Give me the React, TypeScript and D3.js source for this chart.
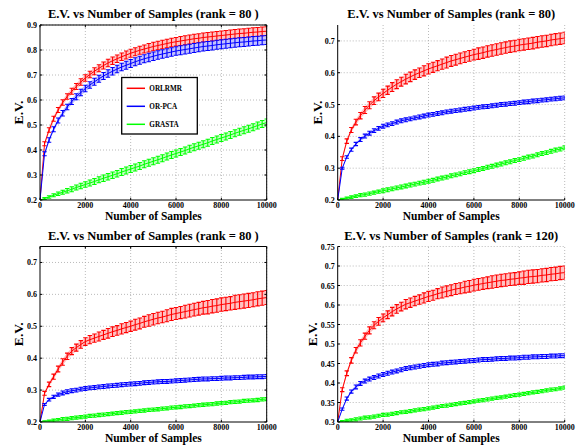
import React from 'react';
import * as d3 from 'd3';

// ---------- data ----------
const SAMPLES = [0, 200, 400, 600, 800, 1000, 1200, 1400, 1600, 1800, 2000, 2200, 2400, 2600, 2800, 3000, 3200, 3400, 3600, 3800, 4000, 4200, 4400, 4600, 4800, 5000, 5200, 5400, 5600, 5800, 6000, 6200, 6400, 6600, 6800, 7000, 7200, 7400, 7600, 7800, 8000, 8200, 8400, 8600, 8800, 9000, 9200, 9400, 9600, 9800, 10000];
const X_TICKS = [0, 2000, 4000, 6000, 8000, 10000];
const SERIES_NAMES = ['ORLRMR', 'OR-PCA', 'GRASTA'];
const SERIES_COLORS = ['#ff0000', '#0000ff', '#00ff00'];

const TITLES = [
  'E.V. vs Number of Samples (rank = 80 )',
  'E.V. vs Number of Samples (rank = 80)',
  'E.V. vs Number of Samples (rank = 80 )',
  'E.V. vs Number of Samples (rank = 120)',
];
const Y_DOMAINS = [[0.2, 0.9], [0.2, 0.75], [0.2, 0.75], [0.3, 0.75]];
const Y_TICKS_TL = [0.2, 0.3, 0.4, 0.5, 0.6, 0.7, 0.8, 0.9];
const Y_TICKS_TR = [0.2, 0.3, 0.4, 0.5, 0.6, 0.7];
const Y_TICKS_BL = [0.2, 0.3, 0.4, 0.5, 0.6, 0.7];
const Y_TICKS_BR = [0.3, 0.35, 0.4, 0.45, 0.5, 0.55, 0.6, 0.65, 0.7, 0.75];

// top-left panel
const TL_RED = [0.200, 0.425, 0.480, 0.525, 0.560, 0.590, 0.614, 0.635, 0.654, 0.672, 0.688, 0.702, 0.715, 0.727, 0.738, 0.748, 0.757, 0.765, 0.773, 0.780, 0.787, 0.793, 0.799, 0.804, 0.809, 0.814, 0.818, 0.822, 0.826, 0.830, 0.833, 0.836, 0.839, 0.842, 0.845, 0.847, 0.850, 0.852, 0.854, 0.856, 0.858, 0.860, 0.862, 0.864, 0.866, 0.867, 0.869, 0.871, 0.872, 0.874, 0.875];
const TL_BLUE = [0.200, 0.385, 0.440, 0.483, 0.518, 0.547, 0.572, 0.594, 0.613, 0.630, 0.646, 0.660, 0.673, 0.685, 0.696, 0.706, 0.715, 0.724, 0.732, 0.739, 0.746, 0.753, 0.759, 0.765, 0.770, 0.775, 0.780, 0.784, 0.788, 0.792, 0.796, 0.799, 0.802, 0.805, 0.808, 0.811, 0.814, 0.816, 0.818, 0.821, 0.823, 0.825, 0.827, 0.829, 0.831, 0.832, 0.834, 0.836, 0.837, 0.839, 0.840];
const TL_GREEN = [0.200, 0.206, 0.212, 0.219, 0.225, 0.231, 0.237, 0.243, 0.250, 0.256, 0.262, 0.268, 0.274, 0.281, 0.287, 0.293, 0.299, 0.305, 0.312, 0.318, 0.324, 0.330, 0.336, 0.343, 0.349, 0.355, 0.361, 0.367, 0.374, 0.380, 0.386, 0.392, 0.398, 0.405, 0.411, 0.417, 0.423, 0.429, 0.436, 0.442, 0.448, 0.454, 0.460, 0.467, 0.473, 0.479, 0.485, 0.491, 0.498, 0.504, 0.510];
const TL_RED_ERR = [0, 0.008, 0.009, 0.010, 0.010, 0.011, 0.011, 0.012, 0.012, 0.013, 0.013, 0.013, 0.014, 0.014, 0.014, 0.015, 0.015, 0.015, 0.015, 0.016, 0.016, 0.016, 0.016, 0.016, 0.017, 0.017, 0.017, 0.017, 0.017, 0.017, 0.017, 0.018, 0.018, 0.018, 0.018, 0.018, 0.018, 0.018, 0.018, 0.018, 0.018, 0.018, 0.018, 0.018, 0.018, 0.018, 0.018, 0.018, 0.018, 0.018, 0.018];
const TL_BLUE_ERR = [0, 0.008, 0.009, 0.010, 0.010, 0.011, 0.011, 0.012, 0.012, 0.013, 0.013, 0.013, 0.014, 0.014, 0.014, 0.015, 0.015, 0.015, 0.015, 0.016, 0.016, 0.016, 0.016, 0.016, 0.017, 0.017, 0.017, 0.017, 0.017, 0.017, 0.017, 0.018, 0.018, 0.018, 0.018, 0.018, 0.018, 0.018, 0.018, 0.018, 0.018, 0.018, 0.018, 0.018, 0.018, 0.018, 0.018, 0.018, 0.018, 0.018, 0.018];
const TL_GREEN_ERR = [0, 0.004, 0.005, 0.006, 0.007, 0.008, 0.009, 0.010, 0.010, 0.011, 0.011, 0.012, 0.012, 0.012, 0.013, 0.013, 0.013, 0.013, 0.014, 0.014, 0.014, 0.014, 0.014, 0.014, 0.014, 0.014, 0.014, 0.014, 0.014, 0.014, 0.014, 0.014, 0.014, 0.014, 0.014, 0.014, 0.014, 0.014, 0.014, 0.014, 0.014, 0.014, 0.014, 0.014, 0.014, 0.014, 0.014, 0.014, 0.014, 0.014, 0.014];

// top-right panel
const TR_RED = [0.200, 0.330, 0.385, 0.420, 0.445, 0.465, 0.483, 0.498, 0.512, 0.524, 0.535, 0.545, 0.555, 0.564, 0.572, 0.580, 0.587, 0.594, 0.600, 0.606, 0.612, 0.617, 0.622, 0.627, 0.632, 0.637, 0.641, 0.645, 0.649, 0.653, 0.657, 0.660, 0.663, 0.667, 0.670, 0.673, 0.676, 0.679, 0.682, 0.684, 0.687, 0.689, 0.691, 0.693, 0.696, 0.698, 0.700, 0.703, 0.705, 0.707, 0.709];
const TR_BLUE = [0.200, 0.300, 0.335, 0.358, 0.376, 0.390, 0.401, 0.410, 0.418, 0.425, 0.432, 0.436, 0.440, 0.445, 0.449, 0.452, 0.455, 0.458, 0.461, 0.464, 0.467, 0.469, 0.472, 0.474, 0.477, 0.479, 0.481, 0.483, 0.485, 0.487, 0.489, 0.491, 0.493, 0.494, 0.496, 0.498, 0.500, 0.501, 0.503, 0.504, 0.506, 0.508, 0.509, 0.511, 0.512, 0.514, 0.515, 0.517, 0.518, 0.520, 0.521];
const TR_GREEN = [0.200, 0.203, 0.206, 0.209, 0.212, 0.215, 0.217, 0.220, 0.223, 0.226, 0.229, 0.232, 0.235, 0.238, 0.241, 0.244, 0.247, 0.250, 0.253, 0.256, 0.259, 0.262, 0.266, 0.269, 0.272, 0.276, 0.279, 0.282, 0.286, 0.289, 0.292, 0.296, 0.299, 0.303, 0.306, 0.310, 0.313, 0.317, 0.320, 0.324, 0.327, 0.331, 0.335, 0.338, 0.342, 0.346, 0.349, 0.353, 0.357, 0.360, 0.364];
const TR_RED_ERR = [0, 0.006, 0.007, 0.008, 0.009, 0.010, 0.011, 0.011, 0.012, 0.012, 0.013, 0.013, 0.014, 0.014, 0.014, 0.015, 0.015, 0.015, 0.015, 0.016, 0.016, 0.016, 0.016, 0.016, 0.017, 0.017, 0.017, 0.017, 0.017, 0.017, 0.017, 0.018, 0.018, 0.018, 0.018, 0.018, 0.018, 0.018, 0.018, 0.018, 0.018, 0.018, 0.018, 0.018, 0.018, 0.018, 0.018, 0.018, 0.018, 0.018, 0.018];
const TR_BLUE_ERR = [0, 0.003, 0.004, 0.005, 0.005, 0.006, 0.006, 0.006, 0.006, 0.006, 0.006, 0.006, 0.006, 0.006, 0.006, 0.006, 0.006, 0.006, 0.006, 0.006, 0.006, 0.006, 0.006, 0.006, 0.006, 0.006, 0.006, 0.006, 0.006, 0.006, 0.006, 0.006, 0.006, 0.006, 0.006, 0.006, 0.006, 0.006, 0.006, 0.006, 0.006, 0.006, 0.006, 0.006, 0.006, 0.006, 0.006, 0.006, 0.006, 0.006, 0.006];
const TR_GREEN_ERR = [0, 0.002, 0.003, 0.004, 0.004, 0.005, 0.005, 0.005, 0.005, 0.005, 0.006, 0.006, 0.006, 0.006, 0.006, 0.006, 0.006, 0.006, 0.006, 0.006, 0.006, 0.006, 0.006, 0.006, 0.006, 0.006, 0.006, 0.006, 0.006, 0.006, 0.006, 0.006, 0.006, 0.006, 0.006, 0.006, 0.006, 0.006, 0.006, 0.006, 0.006, 0.006, 0.006, 0.006, 0.006, 0.006, 0.006, 0.006, 0.006, 0.006, 0.006];

// bottom-left panel
const BL_RED = [0.200, 0.290, 0.318, 0.342, 0.366, 0.388, 0.406, 0.422, 0.433, 0.443, 0.452, 0.458, 0.463, 0.468, 0.473, 0.478, 0.483, 0.487, 0.492, 0.496, 0.500, 0.505, 0.509, 0.514, 0.518, 0.522, 0.526, 0.529, 0.533, 0.537, 0.540, 0.543, 0.546, 0.549, 0.552, 0.555, 0.558, 0.560, 0.563, 0.565, 0.568, 0.570, 0.572, 0.575, 0.577, 0.579, 0.581, 0.583, 0.586, 0.588, 0.590];
const BL_BLUE = [0.200, 0.255, 0.270, 0.279, 0.286, 0.291, 0.295, 0.298, 0.300, 0.303, 0.305, 0.307, 0.308, 0.310, 0.311, 0.313, 0.314, 0.315, 0.317, 0.318, 0.319, 0.320, 0.321, 0.323, 0.324, 0.325, 0.326, 0.327, 0.327, 0.328, 0.329, 0.330, 0.331, 0.332, 0.333, 0.334, 0.335, 0.335, 0.336, 0.336, 0.337, 0.338, 0.338, 0.339, 0.339, 0.340, 0.341, 0.341, 0.342, 0.342, 0.343];
const BL_GREEN = [0.200, 0.202, 0.203, 0.205, 0.207, 0.209, 0.210, 0.212, 0.214, 0.215, 0.217, 0.219, 0.220, 0.222, 0.223, 0.225, 0.226, 0.228, 0.229, 0.231, 0.232, 0.233, 0.235, 0.236, 0.238, 0.239, 0.240, 0.242, 0.243, 0.245, 0.246, 0.247, 0.249, 0.250, 0.251, 0.253, 0.254, 0.255, 0.256, 0.258, 0.259, 0.260, 0.262, 0.263, 0.264, 0.266, 0.267, 0.268, 0.269, 0.271, 0.272];
const BL_RED_ERR = [0, 0.006, 0.007, 0.008, 0.009, 0.010, 0.010, 0.011, 0.011, 0.012, 0.012, 0.013, 0.013, 0.014, 0.014, 0.015, 0.015, 0.015, 0.016, 0.016, 0.016, 0.017, 0.017, 0.017, 0.018, 0.018, 0.018, 0.018, 0.019, 0.019, 0.019, 0.019, 0.020, 0.020, 0.020, 0.020, 0.020, 0.021, 0.021, 0.021, 0.021, 0.021, 0.021, 0.022, 0.022, 0.022, 0.022, 0.022, 0.022, 0.022, 0.022];
const BL_BLUE_ERR = [0, 0.003, 0.004, 0.005, 0.005, 0.006, 0.006, 0.006, 0.006, 0.006, 0.006, 0.006, 0.006, 0.006, 0.006, 0.006, 0.006, 0.006, 0.006, 0.006, 0.006, 0.006, 0.006, 0.006, 0.006, 0.006, 0.006, 0.006, 0.006, 0.006, 0.006, 0.006, 0.006, 0.006, 0.006, 0.006, 0.006, 0.006, 0.006, 0.006, 0.006, 0.006, 0.006, 0.006, 0.006, 0.006, 0.006, 0.006, 0.006, 0.006, 0.006];
const BL_GREEN_ERR = [0, 0.002, 0.003, 0.004, 0.004, 0.005, 0.005, 0.005, 0.005, 0.005, 0.005, 0.005, 0.005, 0.005, 0.005, 0.005, 0.005, 0.005, 0.005, 0.005, 0.005, 0.005, 0.005, 0.005, 0.005, 0.005, 0.005, 0.005, 0.005, 0.005, 0.005, 0.005, 0.005, 0.005, 0.005, 0.005, 0.005, 0.005, 0.005, 0.005, 0.005, 0.005, 0.005, 0.005, 0.005, 0.005, 0.005, 0.005, 0.005, 0.005, 0.005];

// bottom-right panel
const BR_RED = [0.300, 0.383, 0.425, 0.458, 0.484, 0.503, 0.520, 0.535, 0.548, 0.558, 0.567, 0.575, 0.583, 0.590, 0.596, 0.602, 0.606, 0.610, 0.614, 0.618, 0.622, 0.625, 0.629, 0.632, 0.635, 0.638, 0.641, 0.643, 0.646, 0.648, 0.651, 0.653, 0.655, 0.657, 0.659, 0.661, 0.663, 0.664, 0.666, 0.667, 0.669, 0.670, 0.672, 0.673, 0.674, 0.676, 0.677, 0.679, 0.680, 0.682, 0.683];
const BR_BLUE = [0.300, 0.333, 0.360, 0.378, 0.390, 0.399, 0.405, 0.410, 0.414, 0.418, 0.422, 0.425, 0.428, 0.431, 0.434, 0.437, 0.439, 0.441, 0.443, 0.445, 0.447, 0.448, 0.449, 0.451, 0.452, 0.453, 0.454, 0.455, 0.456, 0.457, 0.458, 0.459, 0.460, 0.460, 0.461, 0.462, 0.463, 0.463, 0.464, 0.464, 0.465, 0.466, 0.466, 0.467, 0.467, 0.468, 0.468, 0.469, 0.469, 0.470, 0.470];
const BR_GREEN = [0.300, 0.302, 0.304, 0.305, 0.307, 0.309, 0.311, 0.312, 0.314, 0.316, 0.318, 0.319, 0.321, 0.323, 0.325, 0.326, 0.328, 0.330, 0.332, 0.333, 0.335, 0.337, 0.339, 0.341, 0.342, 0.344, 0.346, 0.348, 0.349, 0.351, 0.353, 0.355, 0.356, 0.358, 0.360, 0.362, 0.363, 0.365, 0.367, 0.369, 0.370, 0.372, 0.374, 0.376, 0.377, 0.379, 0.381, 0.383, 0.384, 0.386, 0.388];
const BR_RED_ERR = [0, 0.005, 0.006, 0.007, 0.007, 0.008, 0.008, 0.009, 0.009, 0.010, 0.010, 0.010, 0.011, 0.011, 0.011, 0.012, 0.012, 0.012, 0.012, 0.013, 0.013, 0.013, 0.013, 0.014, 0.014, 0.014, 0.014, 0.014, 0.015, 0.015, 0.015, 0.015, 0.015, 0.015, 0.016, 0.016, 0.016, 0.016, 0.016, 0.016, 0.016, 0.017, 0.017, 0.017, 0.017, 0.017, 0.017, 0.017, 0.017, 0.017, 0.017];
const BR_BLUE_ERR = [0, 0.003, 0.004, 0.004, 0.005, 0.005, 0.005, 0.005, 0.005, 0.005, 0.005, 0.005, 0.005, 0.005, 0.005, 0.005, 0.005, 0.005, 0.005, 0.005, 0.005, 0.005, 0.005, 0.005, 0.005, 0.005, 0.005, 0.005, 0.005, 0.005, 0.005, 0.005, 0.005, 0.005, 0.005, 0.005, 0.005, 0.005, 0.005, 0.005, 0.005, 0.005, 0.005, 0.005, 0.005, 0.005, 0.005, 0.005, 0.005, 0.005, 0.005];
const BR_GREEN_ERR = [0, 0.002, 0.003, 0.003, 0.004, 0.004, 0.004, 0.004, 0.004, 0.004, 0.004, 0.004, 0.004, 0.004, 0.004, 0.004, 0.004, 0.004, 0.004, 0.004, 0.004, 0.004, 0.004, 0.004, 0.004, 0.004, 0.004, 0.004, 0.004, 0.004, 0.004, 0.004, 0.004, 0.004, 0.004, 0.004, 0.004, 0.004, 0.004, 0.004, 0.004, 0.004, 0.004, 0.004, 0.004, 0.004, 0.004, 0.004, 0.004, 0.004, 0.004];

// ---------- layout ----------
const FONT = "'Liberation Serif', 'Times New Roman', serif";
const LAYOUT = [
  { left: 40, right: 266.7, top: 25, bottom: 200, box: true, legend: true, yTicks: Y_TICKS_TL, values: [TL_RED, TL_BLUE, TL_GREEN], errs: [TL_RED_ERR, TL_BLUE_ERR, TL_GREEN_ERR], ylabX: 22.5 },
  { left: 337.7, right: 564.7, top: 25, bottom: 200, box: false, legend: false, yTicks: Y_TICKS_TR, values: [TR_RED, TR_BLUE, TR_GREEN], errs: [TR_RED_ERR, TR_BLUE_ERR, TR_GREEN_ERR], ylabX: 321.5 },
  { left: 40, right: 266.7, top: 246.5, bottom: 422, box: true, legend: false, yTicks: Y_TICKS_BL, values: [BL_RED, BL_BLUE, BL_GREEN], errs: [BL_RED_ERR, BL_BLUE_ERR, BL_GREEN_ERR], ylabX: 22.5 },
  { left: 337.7, right: 564.7, top: 246.5, bottom: 422, box: false, legend: false, yTicks: Y_TICKS_BR, values: [BR_RED, BR_BLUE, BR_GREEN], errs: [BR_RED_ERR, BR_BLUE_ERR, BR_GREEN_ERR], ylabX: 316.5 },
];

const LIGHT = ['#ff9a9a', '#9a9aff', '#9aff9a'];

function Panel({ idx }: { idx: number }) {
  const L = LAYOUT[idx];
  const x = d3.scaleLinear().domain([0, 10000]).range([L.left, L.right]);
  const y = d3.scaleLinear().domain(Y_DOMAINS[idx]).range([L.bottom, L.top]);
  const cx = (L.left + L.right) / 2;
  const cy = (L.top + L.bottom) / 2;
  const tick = 2.3;
  const clipId = `clip${idx}`;
  const fmt = (v: number) => String(+v.toFixed(2));

  const series = L.values.map((vals, s) => {
    const errs = L.errs[s];
    const line = d3.line<number>().x((_, i) => x(SAMPLES[i])).y((d) => y(d))(vals) || '';
    const area = d3.area<number>()
      .x((_, i) => x(SAMPLES[i]))
      .y0((d, i) => y(d - errs[i]))
      .y1((d, i) => y(d + errs[i]))(vals) || '';
    let bars = '';
    vals.forEach((v, i) => {
      const e = errs[i];
      if (e <= 0) return;
      const xi = x(SAMPLES[i]);
      const lo = y(v - e);
      const hi = y(v + e);
      bars += `M${xi},${lo}V${hi}M${xi - 2.2},${lo}h4.4M${xi - 2.2},${hi}h4.4`;
    });
    return { line, area, bars, color: SERIES_COLORS[s], light: LIGHT[s] };
  });

  return (
    <g>
      <defs>
        <clipPath id={clipId}>
          <rect x={L.left} y={L.top - 1} width={L.right - L.left} height={L.bottom - L.top + 1} />
        </clipPath>
      </defs>
      {/* grid */}
      <g stroke="#a8a8a8" strokeWidth={0.8} strokeDasharray="1 2">
        {X_TICKS.filter((t) => t > 0).map((t) => (
          <line key={'gx' + t} x1={x(t)} x2={x(t)} y1={L.bottom} y2={L.top} />
        ))}
        {L.yTicks.filter((t) => t > Y_DOMAINS[idx][0]).map((t) => (
          <line key={'gy' + t} x1={L.left} x2={L.right} y1={y(t)} y2={y(t)} />
        ))}
      </g>
      {/* data */}
      <g clipPath={`url(#${clipId})`}>
        {series.map((s, i) => (
          <g key={i}>
            <path d={s.area} fill={s.light} opacity={0.6} />
            <path d={s.bars} stroke={s.color} strokeWidth={1.1} fill="none" />
            <path d={s.line} stroke={s.color} strokeWidth={1} fill="none" />
          </g>
        ))}
      </g>
      {/* axes */}
      <g stroke="#000" strokeWidth={1} fill="none">
        <line x1={L.left} x2={L.left} y1={L.top} y2={L.bottom} />
        <line x1={L.left} x2={L.right} y1={L.bottom} y2={L.bottom} />
        {L.box && <line x1={L.left} x2={L.right} y1={L.top} y2={L.top} />}
        {L.box && <line x1={L.right} x2={L.right} y1={L.top} y2={L.bottom} />}
        {X_TICKS.map((t) => (
          <g key={'tx' + t}>
            <line x1={x(t)} x2={x(t)} y1={L.bottom} y2={L.bottom - tick} />
            {L.box && <line x1={x(t)} x2={x(t)} y1={L.top} y2={L.top + tick} />}
          </g>
        ))}
        {L.yTicks.map((t) => (
          <g key={'ty' + t}>
            <line x1={L.left} x2={L.left + tick} y1={y(t)} y2={y(t)} />
            {L.box && <line x1={L.right} x2={L.right - tick} y1={y(t)} y2={y(t)} />}
          </g>
        ))}
      </g>
      {/* tick labels */}
      <g fontFamily={FONT} fontWeight="bold" fontSize={8} fill="#000">
        {X_TICKS.map((t) => (
          <text key={'lx' + t} x={x(t)} y={L.bottom + 8.3} textAnchor="middle">{t}</text>
        ))}
        {L.yTicks.map((t) => (
          <text key={'ly' + t} x={L.left - 3} y={y(t) + 3} textAnchor="end">{fmt(t)}</text>
        ))}
      </g>
      {/* title and labels */}
      <text x={cx} y={L.top - 6.7} textAnchor="middle" fontFamily={FONT} fontWeight="bold" fontSize={12.5}>{TITLES[idx]}</text>
      <text x={cx} y={L.bottom + 20.2} textAnchor="middle" fontFamily={FONT} fontWeight="bold" fontSize={11.5}>Number of Samples</text>
      <text transform={`translate(${L.ylabX},${cy}) rotate(-90)`} textAnchor="middle" fontFamily={FONT} fontWeight="bold" fontSize={13.5}>E.V.</text>
      {L.legend && (
        <g>
          <rect x={121.7} y={77.5} width={75.6} height={56.5} fill="#fff" stroke="#000" strokeWidth={1.3} />
          {SERIES_NAMES.map((n, i) => (
            <g key={n}>
              <line x1={126.7} x2={145} y1={88.3 + i * 18} y2={88.3 + i * 18} stroke={SERIES_COLORS[i]} strokeWidth={1.5} />
              <text x={149.3} y={88.3 + i * 18 + 2.6} fontFamily={FONT} fontWeight="bold" fontSize={7.2}>{n}</text>
            </g>
          ))}
        </g>
      )}
    </g>
  );
}

export default function App() {
  return (
    <svg width={576} height={445} style={{ position: 'absolute', left: 0, top: 0, background: '#fff' }}>
      <rect x={0} y={0} width={576} height={445} fill="#fff" />
      {[0, 1, 2, 3].map((i) => (
        <Panel key={i} idx={i} />
      ))}
    </svg>
  );
}
